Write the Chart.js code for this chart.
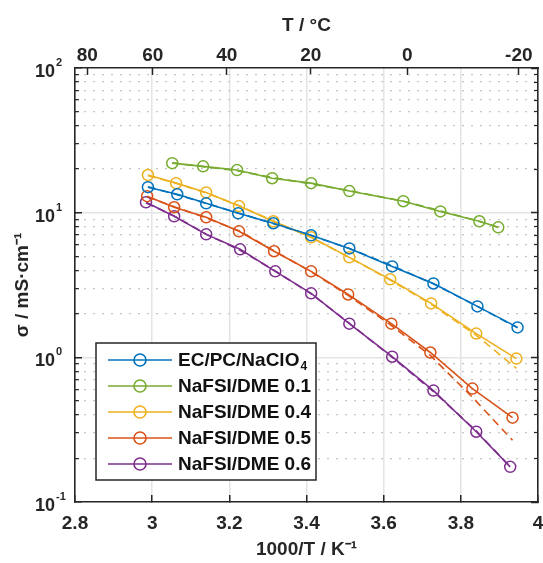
<!DOCTYPE html>
<html>
<head>
<meta charset="utf-8">
<script src="https://cdn.jsdelivr.net/npm/chart.js@4.4.0/dist/chart.umd.min.js"></script>
<style>
  html, body { margin: 0; padding: 0; background: #fff; }
  #wrap { width: 543px; height: 563px; }
</style>
</head>
<body>
<div id="wrap"><canvas id="canvas" width="543" height="563"></canvas></div>
<script>
// conductivity vs inverse temperature, five electrolytes
const seriesNames = ['EC/PC/NaClO4', 'NaFSI/DME 0.1', 'NaFSI/DME 0.4', 'NaFSI/DME 0.5', 'NaFSI/DME 0.6'];
const seriesColors = ['#0072BD', '#77AC30', '#EDB120', '#D95319', '#7E2F8E'];

// 1000/T in K^-1
const invTempEcPc = [2.989, 3.065, 3.140, 3.223, 3.314, 3.412, 3.511, 3.622, 3.729, 3.843, 3.947];
const invTempDme01 = [3.052, 3.132, 3.220, 3.311, 3.412, 3.511, 3.651, 3.747, 3.848, 3.897];
const invTempDme04 = [2.989, 3.062, 3.140, 3.225, 3.314, 3.412, 3.511, 3.617, 3.723, 3.840, 3.944];
const invTempDme05 = [2.987, 3.057, 3.140, 3.225, 3.316, 3.412, 3.508, 3.620, 3.721, 3.830, 3.934];
const invTempDme06 = [2.984, 3.057, 3.140, 3.228, 3.319, 3.412, 3.511, 3.622, 3.729, 3.840, 3.928];

// measured conductivity, mS/cm
const sigmaEcPc = [15.0, 13.4, 11.6, 9.9, 8.45, 6.97, 5.66, 4.25, 3.24, 2.25, 1.61];
const sigmaDme01 = [22.0, 20.9, 19.7, 17.3, 16.0, 14.1, 12.0, 10.2, 8.72, 7.92];
const sigmaDme04 = [18.2, 16.0, 13.8, 11.1, 8.72, 6.76, 4.91, 3.46, 2.36, 1.46, 0.98];
const sigmaDme05 = [13.0, 10.9, 9.29, 7.43, 5.41, 3.93, 2.72, 1.71, 1.08, 0.608, 0.383];
const sigmaDme06 = [11.8, 9.44, 7.08, 5.58, 3.93, 2.77, 1.71, 1.01, 0.589, 0.306, 0.175];

// VTF fit curves (dashed)
const fitEcPc = [15.1, 13.3, 11.6, 9.95, 8.4, 6.95, 5.65, 4.3, 3.22, 2.25, 1.6];
const fitDme01 = [22.1, 20.8, 19.5, 17.5, 15.8, 14.2, 12.0, 10.3, 8.7, 7.9];
const fitDme04 = [18.0, 16.0, 13.7, 11.2, 8.75, 6.75, 4.9, 3.42, 2.33, 1.42, 0.84];
const fitDme05 = [12.9, 11.0, 9.2, 7.5, 5.45, 3.9, 2.68, 1.66, 1.03, 0.53, 0.267];
const fitDme06 = [11.7, 9.5, 7.1, 5.5, 3.95, 2.75, 1.72, 1.0, 0.58, 0.31, 0.175];

// axis ticks
const xTicks = [2.8, 3, 3.2, 3.4, 3.6, 3.8, 4];
const topTempLabels = [80, 60, 40, 20, 0, -20];
const yDecades = [0.1, 1, 10, 100];
const yMinor = [0.1, 1, 10].flatMap(d => [2, 3, 4, 5, 6, 7, 8, 9].map(m => +(m * d).toPrecision(2)));

const family = "'Liberation Sans', Arial, Helvetica, sans-serif";
const axisColor = '#262626';
const gridColor = '#e4e4e4';
const dotColor = '#c6c6c6';
const tickFont = { family, weight: 'bold', size: 19 };
const titleFont = { family, weight: 'bold', size: 19, lineHeight: 1 };

const invTemps = [invTempEcPc, invTempDme01, invTempDme04, invTempDme05, invTempDme06];
const sigmas = [sigmaEcPc, sigmaDme01, sigmaDme04, sigmaDme05, sigmaDme06];
const fits = [fitEcPc, fitDme01, fitDme04, fitDme05, fitDme06];
const pts = (xs, ys) => xs.map((x, i) => ({ x, y: ys[i] }));

const measured = seriesNames.map((name, i) => ({
  label: name,
  data: pts(invTemps[i], sigmas[i]),
  borderColor: seriesColors[i],
  borderWidth: 1.6,
  pointRadius: 5.5,
  pointBorderWidth: 1.5,
  pointBorderColor: seriesColors[i],
  pointBackgroundColor: 'rgba(0,0,0,0)',
  fill: false
}));
const fitted = seriesNames.map((name, i) => ({
  label: name + ' fit',
  data: pts(invTemps[i], fits[i]),
  borderColor: seriesColors[i],
  borderWidth: 1.6,
  borderDash: [8, 5],
  pointRadius: 0,
  fill: false
}));

// grid line hidden where it would sit on the frame
const innerGrid = (lo, hi) => c => (c.tick && (c.tick.value === lo || c.tick.value === hi)) ? 'rgba(0,0,0,0)' : gridColor;
const noPad = s => { s.paddingLeft = 0; s.paddingRight = 0; s.paddingTop = 0; s.paddingBottom = 0; };

// "10" with raised exponent on the left axis
const decadeLabels = {
  id: 'decadeLabels',
  afterDraw(chart) {
    const ys = chart.scales.y;
    const ctx = chart.ctx;
    ctx.save();
    ctx.fillStyle = axisColor;
    ctx.textBaseline = 'middle';
    yDecades.forEach(v => {
      const py = ys.getPixelForValue(v);
      ctx.font = `bold 18px ${family}`;
      ctx.textAlign = 'right';
      ctx.fillText('10', 55, py + 4);
      ctx.font = `bold 11px ${family}`;
      ctx.textAlign = 'left';
      ctx.fillText(String(Math.round(Math.log10(v))), 56, py - 5);
    });
    ctx.restore();
  }
};

// boxed legend inside the plot, lower left
const boxLegend = {
  id: 'boxLegend',
  afterDatasetsDraw(chart) {
    const ctx = chart.ctx;
    const left = 96, top = 343, w = 220, h = 137;
    ctx.save();
    ctx.fillStyle = '#ffffff';
    ctx.fillRect(left, top, w, h);
    ctx.strokeStyle = axisColor;
    ctx.lineWidth = 1.5;
    ctx.strokeRect(left, top, w, h);
    seriesNames.forEach((name, i) => {
      const y = top + 17 + i * 26;
      ctx.strokeStyle = seriesColors[i];
      ctx.lineWidth = 1.6;
      ctx.beginPath();
      ctx.moveTo(108, y);
      ctx.lineTo(172, y);
      ctx.stroke();
      ctx.beginPath();
      ctx.arc(140, y, 6, 0, Math.PI * 2);
      ctx.stroke();
      ctx.fillStyle = '#111111';
      ctx.textAlign = 'left';
      ctx.textBaseline = 'middle';
      ctx.font = `bold 19px ${family}`;
      if (name.endsWith('ClO4')) {
        const base = name.slice(0, -1);
        ctx.fillText(base, 178, y + 1);
        const bw = ctx.measureText(base).width;
        ctx.font = `bold 12px ${family}`;
        ctx.fillText(name.slice(-1), 178 + bw + 1, y + 7);
      } else {
        ctx.fillText(name, 178, y + 1);
      }
    });
    ctx.restore();
  }
};

new Chart(document.getElementById('canvas'), {
  type: 'line',
  data: { datasets: [...measured, ...fitted] },
  plugins: [decadeLabels, boxLegend],
  options: {
    responsive: false,
    animation: false,
    events: [],
    layout: { padding: 0, autoPadding: false },
    plugins: { legend: { display: false }, tooltip: { enabled: false } },
    scales: {
      x: {
        type: 'linear', position: 'bottom', min: 2.8, max: 4, weight: 1,
        afterBuildTicks: s => { s.ticks = xTicks.map(v => ({ value: v })); },
        afterFit: s => { s.height = 61; noPad(s); },
        grid: { color: innerGrid(2.8, 4), lineWidth: 1.5, tickLength: -7, tickColor: axisColor, tickWidth: 1.5 },
        border: { color: axisColor, width: 1.6 },
        ticks: { font: tickFont, color: axisColor, padding: 17, maxRotation: 0, autoSkip: false, callback: v => String(v) },
        title: { display: true, text: '1000/T / K⁻¹', font: titleFont, color: axisColor, padding: 4 }
      },
      xTop: {
        type: 'linear', position: 'top', min: 2.8, max: 4,
        afterBuildTicks: s => { s.ticks = topTempLabels.map(t => ({ value: 1000 / (t + 273.15) })); },
        afterFit: s => { s.height = 68; noPad(s); },
        grid: { drawOnChartArea: false, tickLength: -7, tickColor: axisColor, tickWidth: 1.5 },
        border: { color: axisColor, width: 1.6 },
        ticks: { font: tickFont, color: axisColor, padding: 8, maxRotation: 0, autoSkip: false, callback: (v, i) => String(topTempLabels[i]) },
        title: { display: true, text: 'T / °C', font: titleFont, color: axisColor, padding: 16 }
      },
      y: {
        type: 'logarithmic', position: 'left', min: 0.1, max: 100, weight: 1,
        afterBuildTicks: s => { s.ticks = yDecades.map(v => ({ value: v })); },
        afterFit: s => { s.width = 75; noPad(s); },
        grid: { color: innerGrid(0.1, 100), lineWidth: 1.5, tickLength: -7, tickColor: axisColor, tickWidth: 1.5 },
        border: { color: axisColor, width: 1.6 },
        ticks: { display: false },
        title: { display: true, text: 'σ / mS·cm⁻¹', font: titleFont, color: axisColor, padding: 13 }
      },
      yMinor: {
        type: 'logarithmic', position: 'left', min: 0.1, max: 100, weight: 0,
        afterBuildTicks: s => { s.ticks = yMinor.map(v => ({ value: v })); },
        afterFit: s => { s.width = 0; noPad(s); },
        grid: { color: dotColor, lineWidth: 1.3, tickLength: -4, tickColor: axisColor, tickWidth: 1.2 },
        border: { display: false, dash: [2, 7] },
        ticks: { display: false }
      },
      yRight: {
        type: 'logarithmic', position: 'right', min: 0.1, max: 100, weight: 1,
        afterBuildTicks: s => { s.ticks = yDecades.map(v => ({ value: v })); },
        afterFit: s => { s.width = 5; noPad(s); },
        grid: { drawOnChartArea: false, tickLength: -7, tickColor: axisColor, tickWidth: 1.5 },
        border: { color: axisColor, width: 1.6 },
        ticks: { display: false }
      },
      yRightMinor: {
        type: 'logarithmic', position: 'right', min: 0.1, max: 100, weight: 0,
        afterBuildTicks: s => { s.ticks = yMinor.map(v => ({ value: v })); },
        afterFit: s => { s.width = 0; noPad(s); },
        grid: { drawOnChartArea: false, tickLength: -4, tickColor: axisColor, tickWidth: 1.2 },
        border: { display: false },
        ticks: { display: false }
      }
    }
  }
});
</script>
</body>
</html>
